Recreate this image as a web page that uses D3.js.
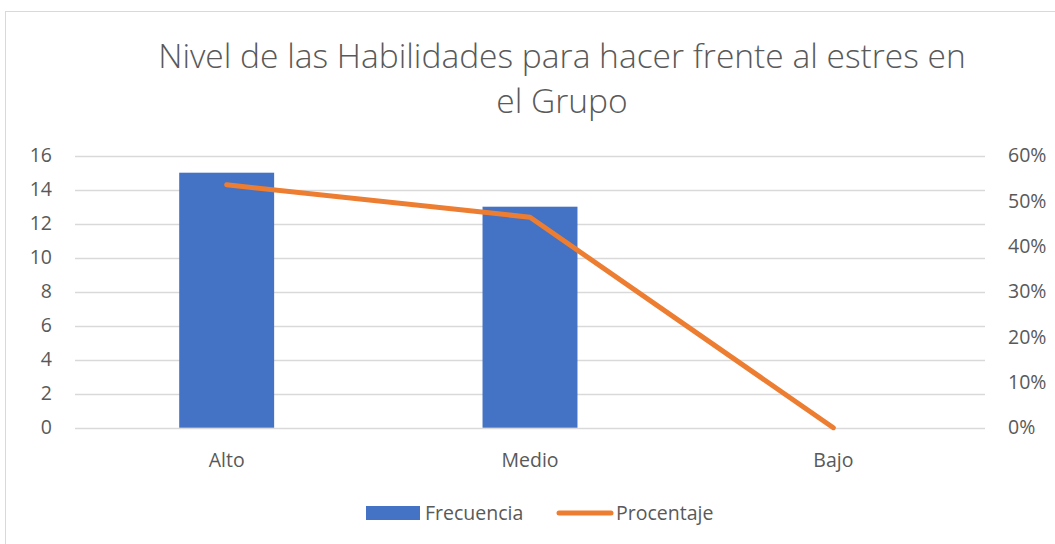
<!DOCTYPE html>
<html><head><meta charset="utf-8">
<script src="https://cdn.jsdelivr.net/npm/d3@7"></script>
<style>body{margin:0;background:#fff}svg{display:block}</style>
</head><body>
<svg id="c" width="1055" height="544"></svg>
<script>
const categories = ["Alto", "Medio", "Bajo"];
const frecuencia = [15, 13, 0];
const porcentaje = [0.5357, 0.4643, 0];
const leftTicks = [0, 2, 4, 6, 8, 10, 12, 14, 16];
const rightTicks = [0, 0.1, 0.2, 0.3, 0.4, 0.5, 0.6];
const titleLines = ["Nivel de las Habilidades para hacer frente al estres en", "el Grupo"];
const seriesNames = ["Frecuencia", "Procentaje"];

const svg = d3.select("#c");
const font = "'Open Sans', 'Noto Sans', sans-serif";
const grey = "#595959";
const fs = "19.5px";
svg.append("rect").attr("x", 5.5).attr("y", 11.5).attr("width", 1060).attr("height", 540)
  .attr("fill", "#fff").attr("stroke", "#d9d9d9");

const L = 75, R = 985, T = 155.7, B = 427.7;
const x = d3.scaleBand().domain(categories).range([L, R]).paddingInner(0.687).paddingOuter(0.3435);
const y = d3.scaleLinear().domain([0, 16]).range([B, T]);
const y2 = d3.scaleLinear().domain([0, 0.6]).range([B, T]);

// gridlines
svg.append("g").selectAll("line").data(leftTicks).join("line")
  .attr("x1", L).attr("x2", R).attr("y1", d => Math.round(y(d)) + 0.5).attr("y2", d => Math.round(y(d)) + 0.5)
  .attr("stroke", "#d9d9d9").attr("stroke-width", 1.3);

// axes
const yAxis = svg.append("g").attr("transform", `translate(${L - 23},0)`)
  .call(d3.axisLeft(y).tickValues(leftTicks).tickSize(0).tickPadding(0));
const y2Axis = svg.append("g").attr("transform", `translate(${R + 23},0)`)
  .call(d3.axisRight(y2).tickValues(rightTicks).tickSize(0).tickPadding(0).tickFormat(d3.format(".0%")));
const xAxis = svg.append("g").attr("transform", `translate(0,${B})`)
  .call(d3.axisBottom(x).tickSize(0).tickPadding(0));
[yAxis, y2Axis, xAxis].forEach(a => {
  a.select(".domain").remove();
  a.selectAll("text").attr("fill", grey).style("font-family", font).style("font-size", fs);
});
xAxis.selectAll("text").attr("dy", null).attr("y", 39);

// bars
svg.append("g").selectAll("rect").data(frecuencia).join("rect")
  .attr("x", (d, i) => x(categories[i])).attr("width", x.bandwidth())
  .attr("y", d => y(d)).attr("height", d => B - y(d)).attr("fill", "#4472c4");

// line
const line = d3.line().x((d, i) => x(categories[i]) + x.bandwidth() / 2).y(d => y2(d));
svg.append("path").datum(porcentaje).attr("d", line).attr("fill", "none")
  .attr("stroke", "#ed7d31").attr("stroke-width", 5).attr("stroke-linecap", "round").attr("stroke-linejoin", "round");

// title
const title = svg.append("text").attr("text-anchor", "middle").attr("fill", grey)
  .style("font-family", font).style("font-weight", 300).style("font-size", "30px");
title.selectAll("tspan").data(titleLines).join("tspan").attr("x", 562).attr("y", (d, i) => 68 + i * 45).text(d => d);
const t0 = title.select("tspan").node();
const w0 = t0.getComputedTextLength();
title.style("font-size", (30 * 808 / w0) + "px");

// legend
const lg = svg.append("g");
lg.append("rect").attr("x", 366).attr("y", 506).attr("width", 54).attr("height", 14).attr("fill", "#4472c4");
lg.append("text").attr("x", 425).attr("y", 520).text(seriesNames[0]).attr("fill", grey)
  .style("font-family", font).style("font-size", fs);
lg.append("line").attr("x1", 559).attr("x2", 611).attr("y1", 513).attr("y2", 513)
  .attr("stroke", "#ed7d31").attr("stroke-width", 5).attr("stroke-linecap", "round");
lg.append("text").attr("x", 616).attr("y", 520).text(seriesNames[1]).attr("fill", grey)
  .style("font-family", font).style("font-size", fs);
</script>
</body></html>
